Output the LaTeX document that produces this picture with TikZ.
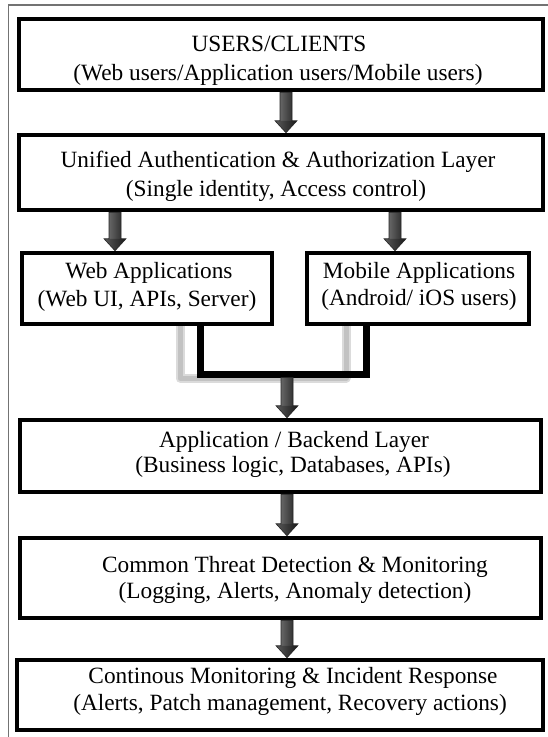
\documentclass[tikz,border=0pt]{standalone}
\usepackage{fontspec}
\setmainfont{Liberation Serif}
\usetikzlibrary{calc}
\tikzset{
  box/.style={draw=black, line width=4.5pt, fill=white, inner sep=0pt, rectangle},
  lbl/.style={inner sep=0pt, anchor=base, font=\fontsize{23.3}{28}\selectfont},
  frameline/.style={draw=black!55, line width=1.4pt},
  conn/.style={draw=black, line width=7pt, line join=miter},
  connshadow/.style={draw=black!14, line width=9pt, line join=round},
  connshadowcore/.style={draw=black!24, line width=5pt, line join=round},
  arrshaft/.style={left color=black!60, middle color=black!15, right color=black!80},
  arrhead/.style={left color=black!65, right color=black!90},
  arroutline/.style={draw=black!85, line width=0.6pt, line join=miter},
}
\newcommand\blkarrow[3]{% #1 x, #2 start point, #3 end point (tip)
  \shade[arrshaft] let \p1=#2, \p2=#3 in
    (#1pt-6pt,\y1) rectangle (#1pt+6pt,\y2+12pt);
  \shade[arrhead] let \p1=#2, \p2=#3 in
    (#1pt-11pt,\y2+12pt) -- (#1pt+11pt,\y2+12pt) -- (#1pt,\y2) -- cycle;
  \path[arroutline] let \p1=#2, \p2=#3 in
    (#1pt-6pt,\y1) -- (#1pt+6pt,\y1) -- (#1pt+6pt,\y2+12pt) -- (#1pt+11pt,\y2+12pt)
    -- (#1pt,\y2) -- (#1pt-11pt,\y2+12pt) -- (#1pt-6pt,\y2+12pt) -- cycle;
}
\begin{document}
\begin{tikzpicture}[x=1pt,y=-1pt]
\useasboundingbox (0,0) rectangle (548,737);
\fill[white] (0,0) rectangle (548,737);

% outer frame (partly visible)
\coordinate (fbl) at (8.5,737);
\coordinate (ftl) at (8.5,5);
\coordinate (ftr) at (548,5);
\draw[frameline] (fbl) -- (ftl) -- (ftr);

% boxes
\node[box, minimum width=524pt, minimum height=71pt] (users) at (281,54.5) {};
\node[box, minimum width=524pt, minimum height=75pt] (auth) at (281,172.5) {};
\node[box, minimum width=250pt, minimum height=71pt] (web) at (147,288.5) {};
\node[box, minimum width=222pt, minimum height=71pt] (mobile) at (418,288.5) {};
\node[box, minimum width=521pt, minimum height=72pt] (backend) at (280.5,456) {};
\node[box, minimum width=521pt, minimum height=80pt] (threat) at (280.5,578) {};
\node[box, minimum width=526pt, minimum height=70pt] (incident) at (280,695) {};

% texts
\node[lbl] (usersA) at (279,51) {USERS/CLIENTS};
\node[lbl] (usersB) at (278,80) {(Web users/Application users/Mobile users)};
\node[lbl] (authA) at (278,167) {Unified Authentication \& Authorization Layer};
\node[lbl] (authB) at (276,196) {(Single identity, Access control)};
\node[lbl] (webA) at (149,278) {Web Applications};
\node[lbl] (webB) at (147,306) {(Web UI, APIs, Server)};
\node[lbl] (mobA) at (419,278) {Mobile Applications};
\node[lbl] (mobB) at (419,305) {(Android/ iOS users)};
\node[lbl] (backA) at (294,447) {Application / Backend Layer};
\node[lbl] (backB) at (293,472) {(Business logic, Databases, APIs)};
\node[lbl] (thrA) at (295,572) {Common Threat Detection \& Monitoring};
\node[lbl] (thrB) at (295,598) {(Logging, Alerts, Anomaly detection)};
\node[lbl] (incA) at (293,683) {Continous Monitoring \& Incident Response};
\node[lbl] (incB) at (290,710) {(Alerts, Patch management, Recovery actions)};

% joining connector with its soft shadow
\coordinate (cl) at (200,374);
\coordinate (cr) at (366,374);
\coordinate (sl) at (180,378);
\coordinate (sr) at (346,378);
\coordinate (cm) at (287,377.5);
\draw[connshadow] (sl |- web.south) -- (sl) -- (sr) -- (sr |- mobile.south);
\draw[connshadowcore] (sl |- web.south) -- (sl) -- (sr) -- (sr |- mobile.south);
\draw[conn] (cl |- web.south) -- (cl) -- (cr) -- (cr |- mobile.south);

% block arrows
\blkarrow{286}{(users.south)}{(auth.north)}
\blkarrow{115}{(auth.south)}{(web.north)}
\blkarrow{395}{(auth.south)}{(mobile.north)}
\blkarrow{287}{(cm)}{(backend.north)}
\blkarrow{287}{(backend.south)}{(threat.north)}
\blkarrow{287}{(threat.south)}{(incident.north)}
\end{tikzpicture}
\end{document}
